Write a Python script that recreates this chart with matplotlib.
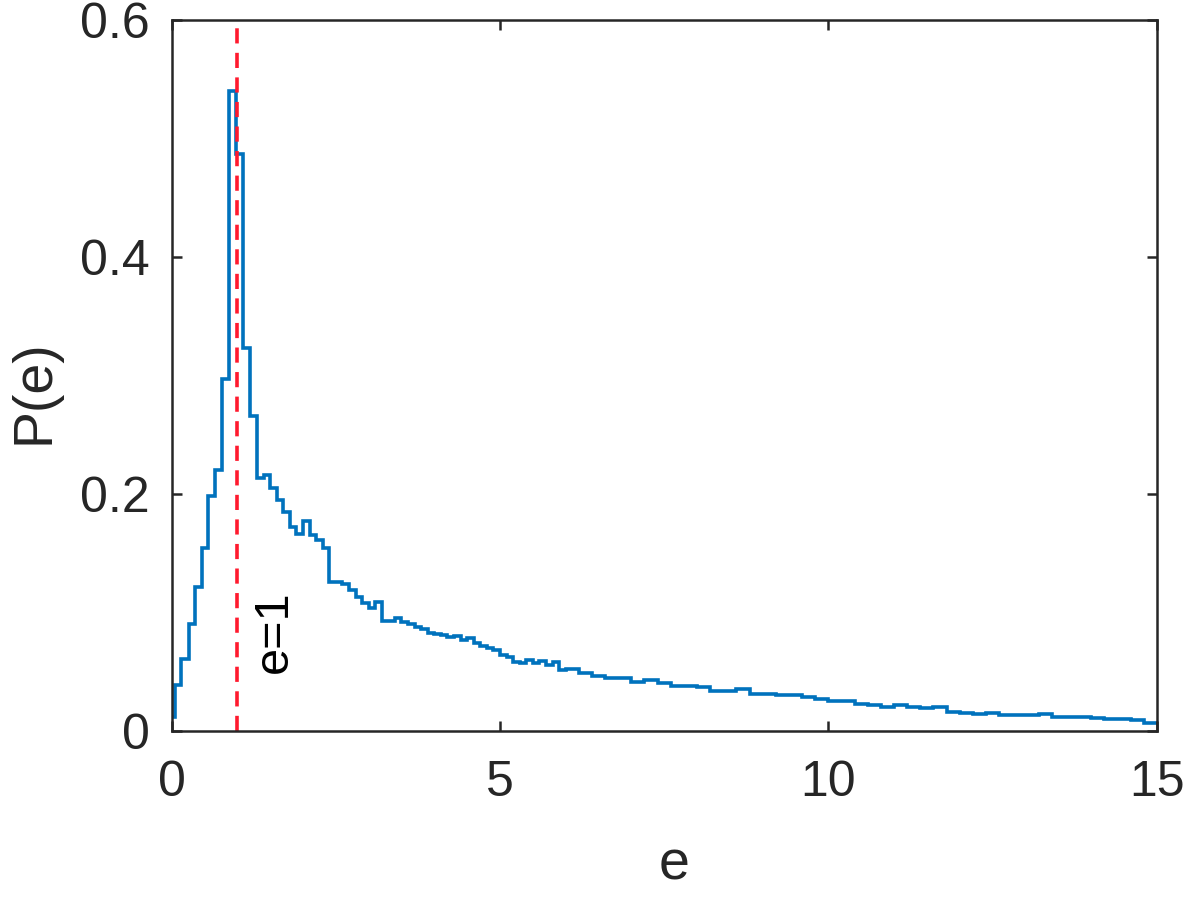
import numpy as np
import matplotlib
matplotlib.use("Agg")
import matplotlib.pyplot as plt

plt.rcParams['font.family'] = ['Liberation Sans', 'DejaVu Sans']

# histogram of e (stairs)
head_edges = [0, 0.05, 0.15, 0.26, 0.36, 0.47, 0.56, 0.66, 0.76, 0.88, 0.98, 1.09, 1.2, 1.3]
head_vals = [0.012, 0.039, 0.061, 0.090, 0.121, 0.154, 0.198, 0.220, 0.297, 0.540,
             0.487, 0.323, 0.266]

# 0.1 wide bins from 1.3 to 6.0
mid_vals = [0.213, 0.216, 0.205, 0.195, 0.185, 0.172, 0.166, 0.177, 0.165, 0.161,
            0.154, 0.126, 0.126, 0.124, 0.119, 0.113, 0.108, 0.104, 0.109, 0.093,
            0.093, 0.095, 0.092, 0.090, 0.088, 0.086, 0.083, 0.082, 0.081, 0.079,
            0.080, 0.077, 0.078, 0.074, 0.072, 0.070, 0.068, 0.064, 0.062, 0.058,
            0.057, 0.060, 0.057, 0.059, 0.056, 0.058, 0.051]

# 0.2 wide bins from 6.0 to 15.0
tail_vals = [0.052, 0.049, 0.046, 0.045, 0.045, 0.041, 0.043, 0.040, 0.038, 0.038,
             0.037, 0.034, 0.034, 0.035, 0.031, 0.031, 0.030, 0.030, 0.029, 0.027,
             0.025, 0.025, 0.023, 0.022, 0.020, 0.022, 0.020, 0.019, 0.020, 0.016,
             0.015, 0.014, 0.015, 0.013, 0.013, 0.013, 0.014, 0.012, 0.012, 0.012,
             0.011, 0.010, 0.010, 0.009, 0.007]

mid_edges = np.linspace(1.3, 6.0, len(mid_vals) + 1)
tail_edges = np.linspace(6.0, 15.0, len(tail_vals) + 1)

edges = np.concatenate([head_edges, mid_edges[1:], tail_edges[1:]])
vals = np.concatenate([head_vals, mid_vals, tail_vals])

xticks = [0, 5, 10, 15]
yticks = [0, 0.2, 0.4, 0.6]
ytick_labels = ['0', '0.2', '0.4', '0.6']

dark = '#262626'

fig = plt.figure(figsize=(12, 8.99), dpi=100)
ax = fig.add_axes([0.143, 0.187, 0.821, 0.791])

ax.stairs(vals, edges, baseline=None, color='#0072BD', lw=2.6)
ax.axvline(1, color='#FF1A2E', lw=2.6, dashes=(4.2, 2.6))
ax.text(1.56, 0.084, 'e=1', rotation=90, ha='center', va='center',
        fontsize=35, color='black')

ax.set_xlim(0, 15)
ax.set_ylim(0, 0.6)
ax.set_xticks(xticks, [str(t) for t in xticks])
ax.set_yticks(yticks, ytick_labels)
ax.tick_params(direction='in', length=7, width=1.8, top=True, right=True,
               labelsize=36, colors=dark, labelcolor=dark)
ax.tick_params(axis='x', pad=21)
ax.tick_params(axis='y', pad=15.5)
for sp in ax.spines.values():
    sp.set_linewidth(1.8)
    sp.set_color(dark)

ax.set_xlabel('e', fontsize=40, color=dark, va='center')
ax.xaxis.set_label_coords(0.51, -0.19)
ax.set_ylabel('P(e)', fontsize=40, color=dark, va='center')
ax.yaxis.set_label_coords(-0.139, 0.477)

fig.savefig('out.png', dpi=100)
